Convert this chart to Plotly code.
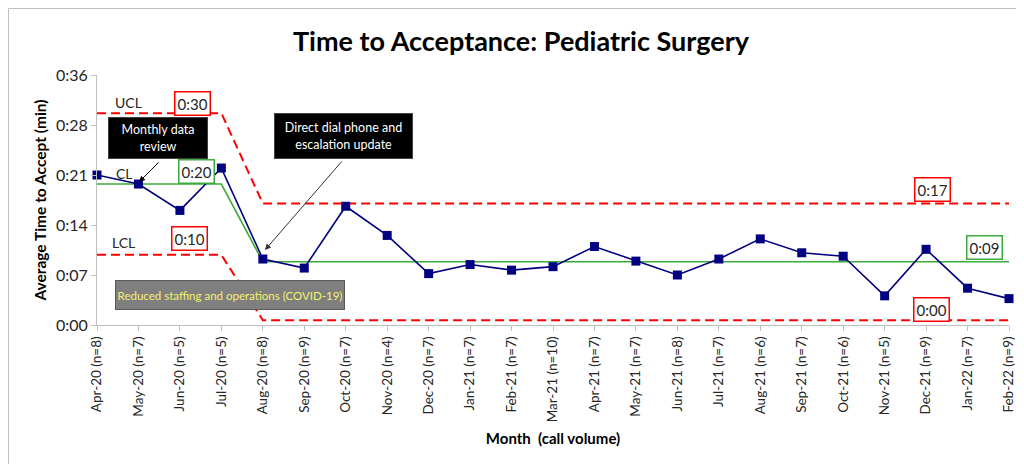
import plotly.graph_objects as go

# ---------------- data ----------------
months = ["Apr-20 (n=8)", "May-20 (n=7)", "Jun-20 (n=5)", "Jul-20 (n=5)", "Aug-20 (n=8)",
          "Sep-20 (n=9)", "Oct-20 (n=7)", "Nov-20 (n=4)", "Dec-20 (n=7)", "Jan-21 (n=7)",
          "Feb-21 (n=7)", "Mar-21 (n=10)", "Apr-21 (n=7)", "May-21 (n=7)", "Jun-21 (n=8)",
          "Jul-21 (n=7)", "Aug-21 (n=6)", "Sep-21 (n=7)", "Oct-21 (n=6)", "Nov-21 (n=5)",
          "Dec-21 (n=9)", "Jan-22 (n=7)", "Feb-22 (n=9)"]
avg_time = [21.6, 20.3, 16.5, 22.6, 9.5, 8.2, 17.1, 12.9, 7.4, 8.7, 7.9, 8.4,
            11.3, 9.2, 7.2, 9.5, 12.4, 10.4, 9.9, 4.2, 10.9, 5.3, 3.8]
phase_lengths = [4, 19]
cl_phase = [20.3, 9.1]
ucl_phase = [30.5, 17.5]
lcl_phase = [10.1, 0.7]
ytick_vals = [0, 7.2, 14.4, 21.6, 28.8, 36]
ytick_text = ["0:00", "0:07", "0:14", "0:21", "0:28", "0:36"]


def expand(phase_vals):
    out = []
    for v, n in zip(phase_vals, phase_lengths):
        out += [v] * n
    return out


cl = expand(cl_phase)
ucl = expand(ucl_phase)
lcl = expand(lcl_phase)
xs = list(range(len(months)))

FONT = "Lato"
TXT = "#262626"

# page offset (default body margin) and figure size
OFF = 8
W, H = 1024 - OFF, 472 - 2 * OFF
# plot area in window pixels
L, R, T, B = 97, 1009, 75, 325


def px(x):
    return (x - L) / (R - L)


def py(y):
    return (B - y) / (B - T)


fig = go.Figure()
fig.add_trace(go.Scatter(x=xs, y=ucl, mode="lines", line=dict(color="#FF0000", width=2, dash="9px,5px"),
                         hoverinfo="skip", showlegend=False, cliponaxis=False))
fig.add_trace(go.Scatter(x=xs, y=lcl, mode="lines", line=dict(color="#FF0000", width=2, dash="9px,5px"),
                         hoverinfo="skip", showlegend=False, cliponaxis=False))
fig.add_trace(go.Scatter(x=xs, y=cl, mode="lines", line=dict(color="#3DAA3D", width=1.6),
                         hoverinfo="skip", showlegend=False, cliponaxis=False))
fig.add_trace(go.Scatter(x=xs, y=avg_time, mode="lines+markers",
                         line=dict(color="#000080", width=1.6),
                         marker=dict(symbol="square", size=9, color="#000080"),
                         showlegend=False, cliponaxis=False))

ann = []


def label(text, x, y, size=14, color=TXT):
    ann.append(dict(text=text, x=px(x), y=py(y), xref="paper", yref="paper", showarrow=False,
                    font=dict(family=FONT, size=size, color=color), xanchor="center", yanchor="middle"))


def boxed(text, x, y, border):
    ann.append(dict(text=text, x=px(x), y=py(y), xref="paper", yref="paper", showarrow=False,
                    font=dict(family=FONT, size=15, color=TXT), bgcolor="white",
                    bordercolor=border, borderwidth=1.5, borderpad=2,
                    xanchor="center", yanchor="middle"))


label("UCL", 128, 102)
label("CL", 124, 173)
label("LCL", 123, 243)
boxed("0:30", 192, 103, "#FF0000")
boxed("0:20", 196, 171, "#3DAA3D")
boxed("0:10", 189, 238, "#FF0000")
boxed("0:17", 932, 189, "#FF0000")
boxed("0:09", 984, 247, "#3DAA3D")
boxed("0:00", 931, 309, "#FF0000")

# black callouts
ann.append(dict(text="Monthly data<br>review", x=px(158), y=py(138), xref="paper", yref="paper",
                showarrow=False, bgcolor="black", bordercolor="#404040", borderwidth=1,
                width=96, height=38, font=dict(family=FONT, size=12.5, color="white"),
                xanchor="center", yanchor="middle"))
ann.append(dict(text="Direct dial phone and<br>escalation update", x=px(343.5), y=py(136), xref="paper",
                yref="paper", showarrow=False, bgcolor="black", bordercolor="#404040", borderwidth=1,
                width=135, height=42, font=dict(family=FONT, size=12.5, color="white"),
                xanchor="center", yanchor="middle"))
ann.append(dict(text="Reduced staffing and operations (COVID-19)", x=px(229.5), y=py(294.5), xref="paper",
                yref="paper", showarrow=False, bgcolor="#7F7F7F", bordercolor="#595959", borderwidth=1,
                width=226, height=26, font=dict(family=FONT, size=11.5, color="#F2F26B"),
                xanchor="center", yanchor="middle"))
# arrows
ann.append(dict(text="", x=px(139), y=py(182), xref="paper", yref="paper", showarrow=True,
                ax=21, ay=-21, arrowhead=2, arrowsize=1.2, arrowwidth=1, arrowcolor="black"))
ann.append(dict(text="", x=px(265), y=py(250), xref="paper", yref="paper", showarrow=True,
                ax=78, ay=-90, arrowhead=2, arrowsize=1.2, arrowwidth=1, arrowcolor="#333333"))

# title
ann.append(dict(text="<b>Time to Acceptance: Pediatric Surgery</b>", x=px(521), y=py(40), xref="paper",
                yref="paper", showarrow=False, font=dict(family=FONT, size=27, color="black"),
                xanchor="center", yanchor="middle"))

fig.update_layout(
    width=W, height=H,
    margin=dict(l=L - OFF, r=W - (R - OFF), t=T - OFF, b=H - (B - OFF)),
    paper_bgcolor="white", plot_bgcolor="white",
    annotations=ann,
    shapes=[dict(type="rect", xref="paper", yref="paper", x0=px(8.5), x1=px(1040), y0=py(490), y1=py(8.5),
                 line=dict(color="#BFBFBF", width=1), fillcolor="rgba(0,0,0,0)", layer="below")],
    xaxis=dict(range=[0, 22], tickmode="array", tickvals=xs, ticktext=months, tickangle=-90,
               automargin=False, ticklabeloverflow="allow",
               showgrid=False, zeroline=False, showline=True, linecolor="#BFBFBF", linewidth=1,
               ticks="outside", ticklen=5, tickcolor="#BFBFBF",
               tickfont=dict(family=FONT, size=13.5, color=TXT),
               title=dict(text="<b>Month  (call volume)</b>", font=dict(family=FONT, size=15, color="black"),
                          standoff=12)),
    yaxis=dict(range=[0, 36], tickmode="array", tickvals=ytick_vals, ticktext=ytick_text,
               automargin=False,
               showgrid=False, zeroline=False, showline=True, linecolor="#BFBFBF", linewidth=1,
               ticks="outside", ticklen=5, tickcolor="#BFBFBF",
               tickfont=dict(family=FONT, size=16, color=TXT),
               title=dict(text="<b>Average Time to Accept (min)</b>",
                          font=dict(family=FONT, size=15.5, color="black"), standoff=5)),
)

fig.write_html("out.html")
